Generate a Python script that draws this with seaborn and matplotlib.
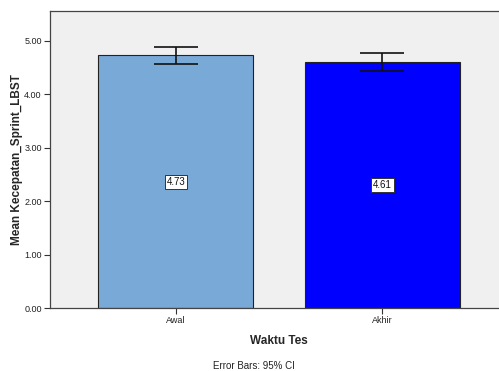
import matplotlib
matplotlib.use("Agg")
import matplotlib.pyplot as plt
import seaborn as sns
import pandas as pd

categories = ["Awal", "Akhir"]
means = [4.73, 4.61]
ci_lower = [4.57, 4.44]
ci_upper = [4.89, 4.77]
bar_colors = ["#79A9D7", "#0000FF"]
y_ticks = [0.0, 1.0, 2.0, 3.0, 4.0, 5.0]

df = pd.DataFrame({"Waktu Tes": categories, "Mean": means})

sns.set_style("white")
plt.rcParams["font.family"] = ["Liberation Sans", "DejaVu Sans"]

fig = plt.figure(figsize=(4.99, 3.71), dpi=100)
W, H = 499, 371
ax = fig.add_axes([50 / W, 1 - 308 / H, (508 - 50) / W, (308 - 11) / H])
ax.set_facecolor("#F0F0F0")

sns.barplot(data=df, x="Waktu Tes", y="Mean", hue="Waktu Tes",
            palette=bar_colors, saturation=1, errorbar=None, width=0.75,
            legend=False, edgecolor="#222222", linewidth=0.8, ax=ax)

xs = range(len(categories))
yerr = [[m - lo for m, lo in zip(means, ci_lower)],
        [hi - m for m, hi in zip(means, ci_upper)]]
ax.errorbar(list(xs), means, yerr=yerr, fmt="none", ecolor="#111111",
            elinewidth=1.2, capsize=15.5, capthick=1.2, zorder=5)

for i, m in enumerate(means):
    ax.text(i, m / 2, f"{m:.2f}", ha="center", va="center", fontsize=7,
            color="#111111", zorder=6,
            bbox=dict(boxstyle="square,pad=0.2", facecolor="white",
                      edgecolor="#333333", linewidth=0.7))

ax.set_xlim(-0.61, 1.61)
ax.set_ylim(0, 5.56)
ax.set_yticks(y_ticks)
ax.set_yticklabels([f"{t:.2f}" for t in y_ticks])
ax.tick_params(axis="both", which="both", length=4, width=0.8, color="#333333",
               labelsize=6.5, labelcolor="#222222", direction="out",
               left=True, bottom=True, pad=2)
for sp in ax.spines.values():
    sp.set_color("#444444")
    sp.set_linewidth(0.9)

ax.set_xlabel("Waktu Tes", fontsize=8.5, fontweight="bold", labelpad=7)
ax.set_ylabel("Mean Kecepatan_Sprint_LBST", fontsize=8.5, fontweight="bold",
              labelpad=1)

fig.text(254 / W, 1 - 366 / H, "Error Bars: 95% CI", ha="center",
         va="center", fontsize=7, color="#222222")

fig.savefig("out.png", dpi=100, facecolor="white")
